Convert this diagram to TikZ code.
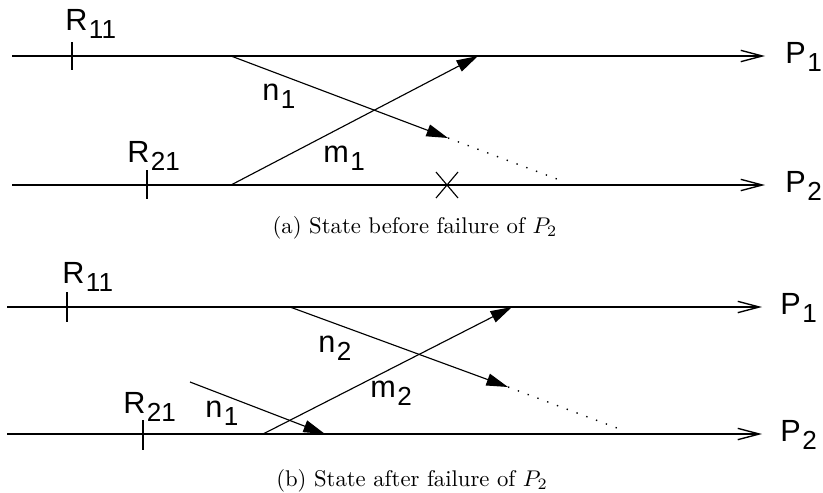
\documentclass[tikz,border=0pt]{standalone}
\usepackage{fontspec}
\usepackage{tikz}
\usetikzlibrary{arrows.meta,positioning}
\newfontfamily\lblfont{Liberation Sans}
\newcommand{\sub}[2]{{\lblfont\fontsize{13.5}{15}\selectfont #1\kern0.6pt\raisebox{-3.8pt}{\fontsize{11.5}{13}\selectfont #2}}}
\tikzset{
  proc/.style={-{Straight Barb[length=9.5pt,width=5pt]},line width=0.6pt},
  msg/.style={-{Triangle[length=9.5pt,width=5.4pt]},line width=0.5pt},
  lost/.style={line width=0.6pt,dash pattern=on 0.6pt off 4pt},
  tk/.style={line width=0.5pt},
  lbl/.style={anchor=base west,inner sep=0pt},
  capt/.style={anchor=base,inner sep=0pt,font=\normalsize}
}

\begin{document}
\begin{tikzpicture}[x=0.4405pt,y=-0.4405pt]
\useasboundingbox (0,0) rectangle (823,492);
% (a) state before failure
\coordinate (a1s) at (12,56);  \coordinate (a1e) at (765,56);
\coordinate (a2s) at (12,185); \coordinate (a2e) at (765,185);
\draw[proc] (a1s)--(a1e);
\draw[proc] (a2s)--(a2e);
\node[lbl] (pa1) at (785,63) {\sub{P}{1}};
\node[lbl] (pa2) at (785,192) {\sub{P}{2}};
\coordinate (ra11) at (72,56);  \draw[tk] (ra11) ++(0,-14) -- ++(0,28);
\coordinate (ra21) at (147,185); \draw[tk] (ra21) ++(0,-15) -- ++(0,29);
\node[lbl] (la11) at (65,30) {\sub{R}{11}};
\node[lbl] (la21) at (127,162) {\sub{R}{21}};
\coordinate (na0) at (231,56);  \coordinate (na1) at (448,138); \coordinate (na2) at (565,182);
\coordinate (ma0) at (231,185); \coordinate (ma1) at (478,56);
\draw[msg] (na0)--(na1);
\draw[lost] (na1)--(na2);
\draw[msg] (ma0)--(ma1);
\node[lbl] (lna) at (262,100) {\sub{n}{1}};
\node[lbl] (lma) at (323,162) {\sub{m}{1}};
\coordinate (xa) at (447,185);
\draw[tk] (xa) ++(-11,-13) -- ++(22,26) (xa) ++(11,-13) -- ++(-22,26);
\node[capt] (cpa) at (415,233) {(a) State before failure of $P_2$};
% (b) state after failure
\coordinate (b1s) at (7,307);  \coordinate (b1e) at (762,307);
\coordinate (b2s) at (7,434);  \coordinate (b2e) at (762,434);
\draw[proc] (b1s)--(b1e);
\draw[proc] (b2s)--(b2e);
\node[lbl] (pb1) at (780,314) {\sub{P}{1}};
\node[lbl] (pb2) at (780,441) {\sub{P}{2}};
\coordinate (rb11) at (67,307);  \draw[tk] (rb11) ++(0,-15) -- ++(0,30);
\coordinate (rb21) at (143,434); \draw[tk] (rb21) ++(0,-14) -- ++(0,30);
\node[lbl] (lb11) at (62,283) {\sub{R}{11}};
\node[lbl] (lb21) at (123,413) {\sub{R}{21}};
\coordinate (nb0) at (290,307); \coordinate (nb1) at (508,387); \coordinate (nb2) at (625,431);
\coordinate (mb0) at (263,434); \coordinate (mb1) at (512,307);
\coordinate (ob0) at (190,382); \coordinate (ob1) at (325,434);
\draw[msg] (nb0)--(nb1);
\draw[lost] (nb1)--(nb2);
\draw[msg] (mb0)--(mb1);
\draw[msg] (ob0)--(ob1);
\node[lbl] (lnb) at (318,352) {\sub{n}{2}};
\node[lbl] (lmb) at (370,397) {\sub{m}{2}};
\node[lbl] (lob) at (205,417) {\sub{n}{1}};
\node[capt] (cpb) at (412,486) {(b) State after failure of $P_2$};
\end{tikzpicture}
\end{document}
